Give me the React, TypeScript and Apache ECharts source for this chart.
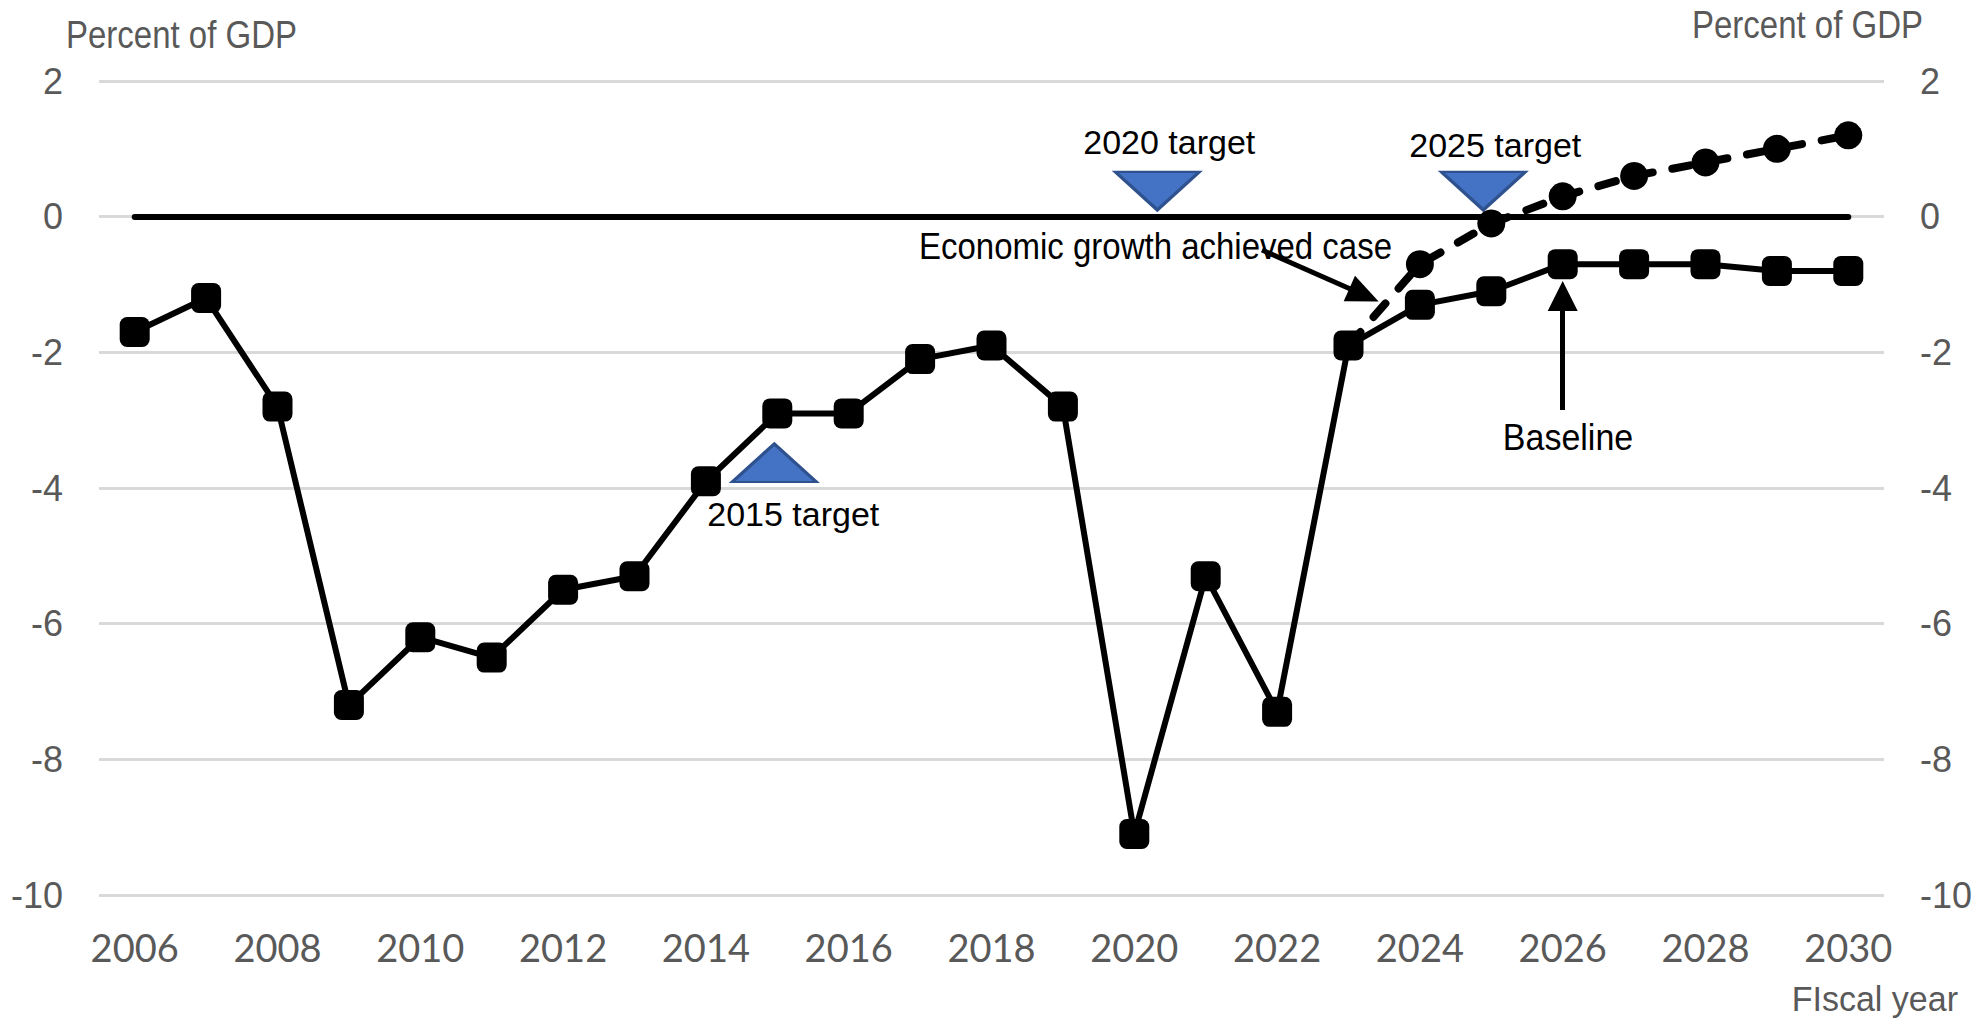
import React, { useEffect, useRef } from "react";
import * as echarts from "echarts";

const years = [
  "2006", "2007", "2008", "2009", "2010", "2011", "2012", "2013", "2014", "2015",
  "2016", "2017", "2018", "2019", "2020", "2021", "2022", "2023", "2024", "2025",
  "2026", "2027", "2028", "2029", "2030",
];
const baselineValues = [
  -1.7, -1.2, -2.8, -7.2, -6.2, -6.5, -5.5, -5.3, -3.9, -2.9,
  -2.9, -2.1, -1.9, -2.8, -9.1, -5.3, -7.3, -1.9, -1.3, -1.1,
  -0.7, -0.7, -0.7, -0.8, -0.8,
];
const growthYears = ["2023", "2024", "2025", "2026", "2027", "2028", "2029", "2030"];
const growthValues = [-1.9, -0.7, -0.1, 0.3, 0.6, 0.8, 1.0, 1.2];
const targetYears = ["2015", "2020", "2025"];
const targetValues = [-3.35, 0.1, 0.1];
const targetLabels = ["2015 target", "2020 target", "2025 target"];
const yMin = -10;
const yMax = 2;
const yStep = 2;

const GRAY = "#595959";
const SANS = "Liberation Sans";

const UP = "path://M1,0 L2,2 L0,2 Z";
const DOWN = "path://M0,0 L2,0 L1,2 Z";
const targetStyle = [
  { symbol: UP, offset: [-3, 19], pos: "bottom", dist: 14, lx: 19 },
  { symbol: DOWN, offset: [23, -19], pos: "top", dist: 12, lx: 12 },
  { symbol: DOWN, offset: [-8, -19], pos: "top", dist: 9, lx: 12 },
];

function buildOption(): any {
  const growthData = years.map((y) => {
    const i = growthYears.indexOf(y);
    if (i < 0) return null;
    if (i === 0) return { value: growthValues[i], symbol: "none" };
    return growthValues[i];
  });
  const targetData = targetYears.map((y, i) => ({
    value: [y, targetValues[i]],
    symbol: targetStyle[i].symbol,
    symbolOffset: targetStyle[i].offset,
    label: {
      show: true,
      formatter: targetLabels[i],
      position: targetStyle[i].pos,
      distance: targetStyle[i].dist,
      offset: [targetStyle[i].lx, 0],
      color: "#000",
      fontFamily: SANS,
      fontSize: 34,
    },
  }));

  const txt = (text: string, x: number, y: number, align: string, size: number, sy: number, fill: string) => ({
    type: "text",
    x,
    y,
    scaleY: sy,
    z: 10,
    style: { text, fill, fontFamily: SANS, fontSize: size, align, verticalAlign: "middle" },
  });

  return {
    animation: false,
    backgroundColor: "#fff",
    grid: { left: 99, right: 99, top: 81, bottom: 127, containLabel: false },
    xAxis: {
      type: "category",
      data: years,
      boundaryGap: true,
      axisLine: { show: false },
      axisTick: { show: false },
      axisLabel: {
        interval: 1,
        color: GRAY,
        fontFamily: "Lato",
        fontSize: 38,
        margin: 33,
      },
      splitLine: { show: false },
    },
    yAxis: [
      {
        type: "value",
        position: "left",
        min: yMin,
        max: yMax,
        interval: yStep,
        axisLine: { show: false },
        axisTick: { show: false },
        axisLabel: { color: GRAY, fontFamily: SANS, fontSize: 36, margin: 36 },
        splitLine: { show: true, lineStyle: { color: "#D9D9D9", width: 3 } },
      },
      {
        type: "value",
        position: "right",
        min: yMin,
        max: yMax,
        interval: yStep,
        axisLine: { show: false },
        axisTick: { show: false },
        axisLabel: { color: GRAY, fontFamily: SANS, fontSize: 36, margin: 36 },
        splitLine: { show: false },
      },
    ],
    series: [
      {
        name: "Targets",
        type: "scatter",
        data: targetData,
        symbolSize: [84, 38],
        symbolKeepAspect: false,
        itemStyle: { color: "#4472C4", borderColor: "#2F528F", borderWidth: 3, opacity: 1 },
        z: 1,
        markLine: {
          silent: true,
          symbol: "none",
          label: { show: false },
          lineStyle: { color: "#000", width: 6, type: "solid", cap: "round" },
          data: [
            [
              { coord: [years[0], 0], symbol: "none" },
              { coord: [years[years.length - 1], 0], symbol: "none" },
            ],
          ],
        },
      },
      {
        name: "Economic growth achieved case",
        type: "line",
        data: growthData,
        symbol: "circle",
        symbolSize: 28,
        itemStyle: { color: "#000" },
        lineStyle: { color: "#000", width: 8, type: [18, 20], cap: "round" },
        z: 3,
        markLine: {
          silent: true,
          label: { show: false },
          lineStyle: { color: "#000", width: 5, type: "solid" },
          data: [
            [
              { x: 1262, y: 250, symbol: "none" },
              { x: 1364, y: 295, symbol: "triangle", symbolSize: [28, 32] },
            ],
          ],
        },
      },
      {
        name: "Baseline",
        type: "line",
        data: baselineValues,
        symbol: "roundRect",
        symbolSize: 30,
        itemStyle: { color: "#000" },
        lineStyle: { color: "#000", width: 6 },
        z: 4,
        markLine: {
          silent: true,
          label: { show: false },
          lineStyle: { color: "#000", width: 5, type: "solid" },
          data: [
            [
              { coord: ["2026", -2.85], symbol: "none" },
              { coord: ["2026", -1.17], symbol: "triangle", symbolSize: [30, 30] },
            ],
          ],
        },
      },
    ],
    graphic: [
      txt("Percent of GDP", 66, 34, "left", 33, 1.2, GRAY),
      txt("Percent of GDP", 1923, 24, "right", 33, 1.2, GRAY),
      txt("FIscal year", 1958, 998, "right", 34, 1.05, GRAY),
      txt("Economic growth achieved case", 919, 246, "left", 33, 1.1, "#000"),
      txt("Baseline", 1568, 437, "center", 34, 1.1, "#000"),
    ],
  };
}

export default function App() {
  const ref = useRef<HTMLDivElement>(null);
  useEffect(() => {
    if (!ref.current) return;
    const chart = echarts.init(ref.current, null, { renderer: "svg" });
    chart.setOption(buildOption());
    return () => chart.dispose();
  }, []);
  return (
    <div
      ref={ref}
      style={{ position: "fixed", left: 0, top: 0, width: 1983, height: 1022, background: "#fff" }}
    />
  );
}
